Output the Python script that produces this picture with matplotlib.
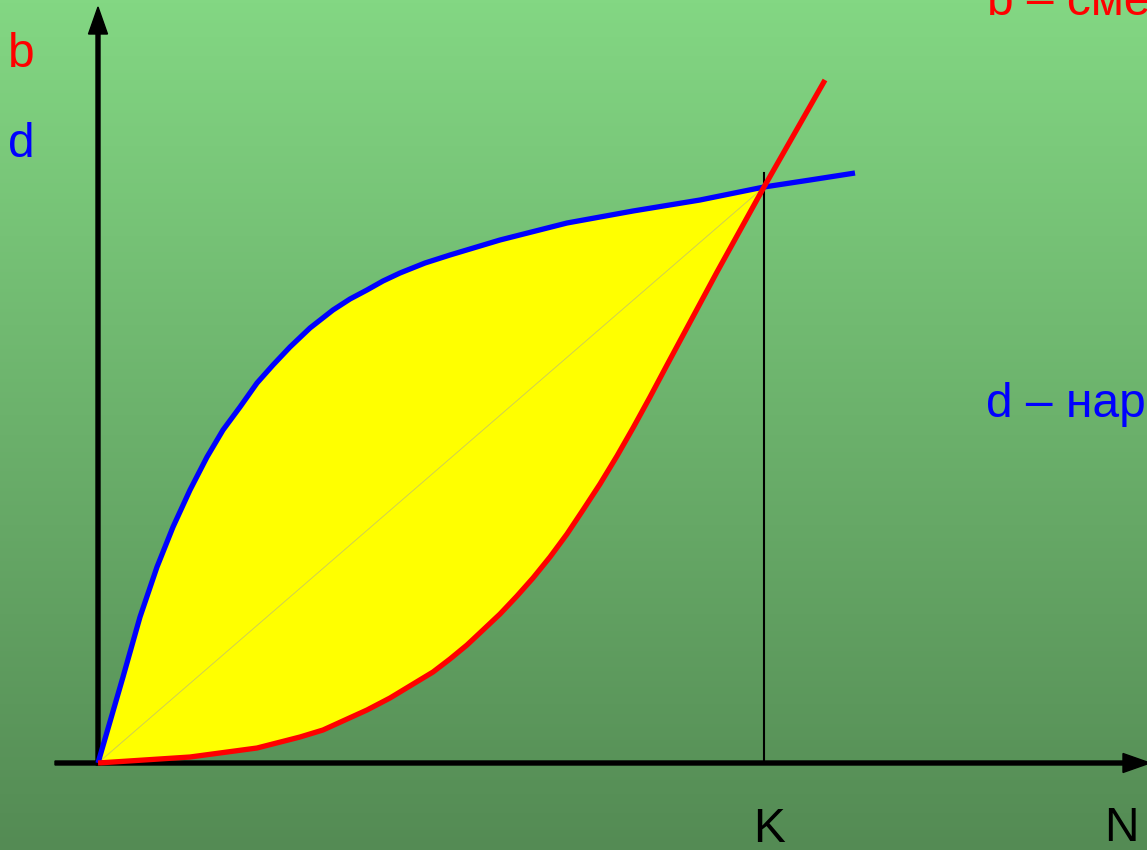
import numpy as np
import matplotlib
matplotlib.use("Agg")
import matplotlib.pyplot as plt

# ---- data (chart units: N along x, rate along y) ----
blue_N = [0, 25, 42, 59, 75, 92, 109, 125, 142, 159, 175, 192, 212, 235, 252,
          269, 285, 302, 327, 352, 402, 469, 535, 602, 666, 712, 757]
blue_d = [0, 86, 146, 196, 236, 273, 306, 333, 356, 380, 398, 416, 435, 453, 464,
          473, 482, 490, 500, 508, 523, 540, 552, 563, 576, 583, 590]
red_N = [0, 92, 159, 202, 225, 269, 292, 335, 352, 369, 385, 402, 419, 435, 452,
         469, 485, 502, 519, 535, 552, 569, 619, 666, 727]
red_b = [0, 6, 15, 26, 33, 53, 65, 91, 104, 118, 133, 149, 167, 185, 206,
         229, 253, 279, 307, 335, 366, 398, 491, 576, 683]
K_N = 666
K_val = 576

labels_axis = {"y1": "b", "y2": "d", "x": "N", "k": "K"}
legend_b = "b – смертность"
legend_d = "d – нарождаемость"

plt.rcParams['font.family'] = ['Liberation Sans', 'DejaVu Sans']

fig = plt.figure(figsize=(11.47, 8.5), dpi=100)
ax = fig.add_axes([0, 0, 1, 1])
ax.set_xlim(-98, 1049)
ax.set_ylim(-87, 763)
ax.axis('off')

# background gradient
top = np.array([131, 215, 131]) / 255
bot = np.array([84, 139, 84]) / 255
t = np.linspace(0, 1, 256)[:, None]
grad = top[None, :] * (1 - t) + bot[None, :] * t
grad = grad[:, None, :].repeat(2, axis=1)
ax.imshow(grad, extent=[-98, 1049, -87, 763], aspect='auto', zorder=0, origin='upper')

# fill between curves up to K
bN = np.array(blue_N); bd = np.array(blue_d)
rN = np.array(red_N); rb = np.array(red_b)
mb = bN <= K_N
mr = rN <= K_N
poly_x = np.concatenate([bN[mb], rN[mr][::-1]])
poly_y = np.concatenate([bd[mb], rb[mr][::-1]])
ax.fill(poly_x, poly_y, color='#ffff00', zorder=2, lw=0)

# faint diagonal
ax.plot([0, K_N], [0, K_val], color='#c8c860', lw=0.6, zorder=3)

# vertical line at K
ax.plot([K_N, K_N], [0, 590], color='black', lw=1.5, zorder=3)

# axes arrows
ax.arrow(0, -2, 0, 758, width=4, head_width=19, head_length=27,
         length_includes_head=True, color='black', zorder=4)
ax.arrow(-43, 0, 1095, 0, width=4, head_width=19, head_length=27,
         length_includes_head=True, color='black', zorder=4)

# curves
ax.plot(blue_N, blue_d, color='#0000ff', lw=3.8, zorder=5,
        solid_capstyle='butt', solid_joinstyle='round')
ax.plot(red_N, red_b, color='#ff0000', lw=3.8, zorder=6,
        solid_capstyle='butt', solid_joinstyle='round')

fs = 34.5
ax.text(-90, 696, labels_axis["y1"], color='#ff0000', fontsize=fs, va='baseline', ha='left')
ax.text(-90, 606, labels_axis["y2"], color='#0000ff', fontsize=fs, va='baseline', ha='left')
ax.text(889, 748, legend_b, color='#ff0000', fontsize=fs, va='baseline', ha='left')
ax.text(888, 346, legend_d, color='#0000ff', fontsize=fs, va='baseline', ha='left')
ax.text(655, -79, labels_axis["k"], color='black', fontsize=fs, va='baseline', ha='left')
ax.text(1006, -78, labels_axis["x"], color='black', fontsize=fs, va='baseline', ha='left')

fig.savefig("out.png", dpi=100)
